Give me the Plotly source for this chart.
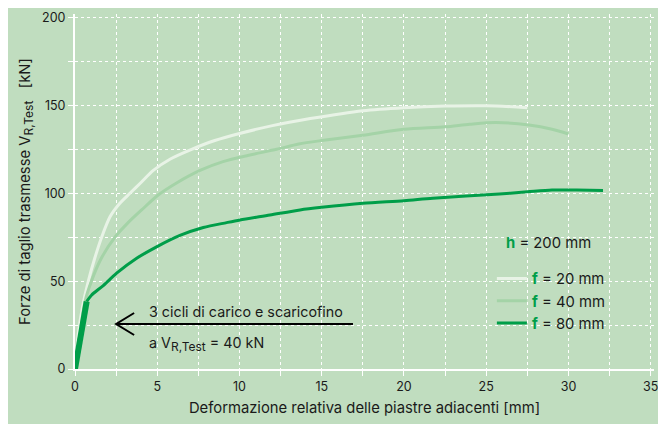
import plotly.graph_objects as go

# Data
f20_x = [0, 0.2, 0.45, 0.81, 1.2, 1.62, 2.13, 2.7, 3.34, 4.0, 4.76, 5.8, 7.09, 8.5, 10.0, 12.0, 14.3, 17.5, 20, 22.5, 25, 27.5]
f20_y = [0, 20, 35, 50, 63, 75, 86.6, 94, 100, 106, 113, 119.5, 125, 130, 134, 138.5, 142.5, 147, 148.7, 149.6, 149.8, 148.7]

f40_x = [0, 0.3, 0.6, 1.0, 1.6, 2.43, 3.2, 4.05, 5.06, 6.2, 7.6, 9.0, 10.5, 12.26, 13.6, 15, 17.5, 20, 22.5, 24, 25.6, 27.6, 29, 30]
f40_y = [0, 20, 38, 50, 63, 75, 83, 90.5, 99, 106, 113, 118, 121.5, 125, 128, 130, 133, 136.4, 137.8, 139.3, 140.3, 138.8, 136.4, 133.7]

f80_x = [0.71, 1.0, 1.72, 2.53, 3.75, 4.96, 6.38, 7.8, 9.22, 10.03, 11.85, 13.68, 15, 17.5, 20, 21.76, 25.8, 27.5, 29, 30.5, 32.1]
f80_y = [38.4, 42, 47.5, 54.5, 63, 69.5, 76, 80.5, 83.3, 84.8, 87.6, 90.5, 92, 94.3, 95.8, 97.2, 99.6, 100.8, 101.8, 101.8, 101.6]

cycle_x = [0, 0.71]
cycle_y = [0, 38.4]

x_ticks = [0, 5, 10, 15, 20, 25, 30, 35]
y_ticks = [0, 50, 100, 150, 200]

BG = "#c0ddbf"
C20 = "#e8f3e6"
C40 = "#a4d3a7"
C80 = "#009e49"
TXT = "#1a1a1a"
FONT = "Inter"

g = f"<span style='color:{C80}'><b>f</b></span>"
SUB = "<sub><span style='font-size:12px'>R,Test</span></sub>"

fig = go.Figure()
fig.add_trace(go.Scatter(x=f20_x, y=f20_y, mode="lines", line=dict(color=C20, width=3, shape="spline", smoothing=0.8),
                         name=f"{g} = 20 mm"))
fig.add_trace(go.Scatter(x=f40_x, y=f40_y, mode="lines", line=dict(color=C40, width=3, shape="spline", smoothing=0.8),
                         name=f"{g} = 40 mm"))
fig.add_trace(go.Scatter(x=f80_x, y=f80_y, mode="lines", line=dict(color=C80, width=3, shape="spline", smoothing=0.8),
                         name=f"{g} = 80 mm"))
fig.add_trace(go.Scatter(x=cycle_x, y=cycle_y, mode="lines", line=dict(color=C80, width=6),
                         showlegend=False))

# arrow line + open chevron head
fig.add_shape(type="line", x0=2.5, y0=25.6, x1=16.9, y1=25.6, line=dict(color="black", width=2))
fig.add_shape(type="path", xref="x", yref="y", xsizemode="pixel", ysizemode="pixel",
              xanchor=2.5, yanchor=25.6, path="M 18,11 L 0,0 L 18,-11",
              line=dict(color="black", width=2))

fig.add_annotation(x=4.38, y=32.7, xref="x", yref="y", text="3 cicli di carico e scaricofino",
                   showarrow=False, xanchor="left", yanchor="middle", font=dict(size=14.3, color=TXT, family=FONT))
fig.add_annotation(x=4.38, y=14.4, xref="x", yref="y", text=f"a V{SUB} = 40 kN",
                   showarrow=False, xanchor="left", yanchor="middle", font=dict(size=14.3, color=TXT, family=FONT))
fig.add_annotation(x=0.741, y=0.355, xref="paper", yref="paper",
                   text=f"<span style='color:{C80}'><b>h</b></span> = 200 mm",
                   showarrow=False, xanchor="left", yanchor="middle", font=dict(size=14.8, color=TXT, family=FONT))

axis_common = dict(
    showline=True, linecolor="white", linewidth=2,
    showgrid=True, gridcolor="white", gridwidth=1, griddash="dot",
    ticks="outside", tickcolor="white", ticklen=5, tickwidth=1,
    zeroline=False, tickfont=dict(size=12.5, color=TXT, family=FONT),
    automargin=False,
)

fig.update_xaxes(range=[0, 35.2], tickvals=x_ticks,
                 minor=dict(dtick=2.5, showgrid=True, gridcolor="white", griddash="dot",
                            ticks="outside", ticklen=5, tickcolor="white"),
                 title=dict(text="Deformazione relativa delle piastre adiacenti [mm]",
                            font=dict(size=14.8, color=TXT, family=FONT), standoff=10),
                 **axis_common)
fig.update_yaxes(range=[0, 202], tickvals=y_ticks,
                 minor=dict(dtick=25, showgrid=True, gridcolor="white", griddash="dot",
                            ticks="outside", ticklen=5, tickcolor="white"),
                 title=dict(text=f"Forze di taglio trasmesse V{SUB}&nbsp;&nbsp;&nbsp;[kN]",
                            font=dict(size=14.8, color=TXT, family=FONT), standoff=8),
                 **axis_common)

fig.update_layout(
    width=658, height=416,
    margin=dict(l=67, r=12, t=6, b=55),
    paper_bgcolor=BG, plot_bgcolor=BG,
    font=dict(family=FONT, color=TXT),
    legend=dict(x=0.72, y=0.30, xanchor="left", yanchor="top", bgcolor="rgba(0,0,0,0)",
                font=dict(size=14.8, color=TXT, family=FONT), itemwidth=30, tracegroupgap=0),
)

fig.write_html("out.html")
